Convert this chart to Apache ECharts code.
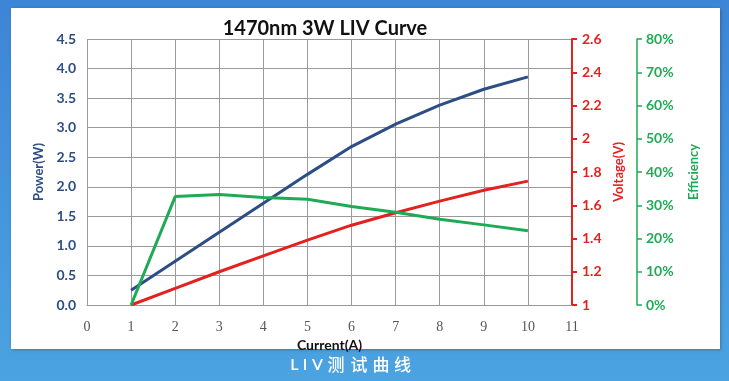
<!DOCTYPE html>
<html><head><meta charset="utf-8">
<script src="https://cdn.jsdelivr.net/npm/echarts@6/dist/echarts.min.js"></script>
<style>html,body{margin:0;padding:0;}#c{width:729px;height:381px;}</style>
</head><body><div id="c"></div>
<script>
const current = [1, 2, 3, 4, 5, 6, 7, 8, 9, 10];
const power = [0.25, 0.74, 1.23, 1.72, 2.21, 2.68, 3.06, 3.38, 3.65, 3.86];
const voltage = [1.0, 1.1, 1.2, 1.295, 1.39, 1.48, 1.555, 1.625, 1.69, 1.745];
const efficiency = [0, 0.326, 0.332, 0.323, 0.318, 0.296, 0.279, 0.258, 0.241, 0.223];
const caption = ['L', 'I', 'V', '测', '试', '曲', '线'];

const BLUE = '#2d4e85', RED = '#e3211f', GREEN = '#1fab55';
const chart = echarts.init(document.getElementById('c'));
const font = 'Lato, "Open Sans", sans-serif';

const capX = [294.5, 305, 317.5, 336, 359, 381, 402.5];
const capGraphics = caption.map((ch, i) => ({
  type: 'text', x: capX[i], y: 365, z: -5,
  style: { text: ch, fill: '#ffffff',
    font: (i < 3 ? '600 16px Lato, sans-serif' : '500 17px "Noto Sans CJK SC", sans-serif'),
    textAlign: 'center', textVerticalAlign: 'middle' }
}));

chart.setOption({
  animation: false,
  backgroundColor: 'transparent',
  title: {
    text: '1470nm 3W LIV Curve', left: 320, top: 14, textAlign: 'center',
    textStyle: { fontFamily: font, fontWeight: 'bold', fontSize: 20, color: '#111' }
  },
  graphic: [
    { type: 'rect', left: 0, top: 0, z: -20, shape: { width: 729, height: 381 },
      style: { fill: new echarts.graphic.LinearGradient(0, 0, 0, 1, [
        { offset: 0, color: '#3d85d6' }, { offset: 1, color: '#4ba3e1' }]) } },
    { type: 'rect', left: 11, top: 8, z: -10, shape: { width: 709, height: 341 },
      style: { fill: '#ffffff', shadowBlur: 3, shadowColor: 'rgba(0,0,0,0.25)', shadowOffsetX: 1, shadowOffsetY: 1 } },
    ...capGraphics
  ],
  grid: { left: 87, right: 157, top: 39, bottom: 76 },
  xAxis: {
    type: 'value', min: 0, max: 11, interval: 1,
    name: 'Current(A)', nameLocation: 'middle', nameGap: 23,
    nameTextStyle: { fontFamily: font, fontWeight: 'bold', fontSize: 14, color: '#111' },
    axisLine: { show: true, lineStyle: { color: '#999', width: 1 } },
    axisTick: { show: false },
    axisLabel: { margin: 15, fontFamily: '"Liberation Serif", serif', fontSize: 14, color: '#555' },
    splitLine: { show: true, lineStyle: { color: '#9a9a9a', width: 1 } }
  },
  yAxis: [
    {
      type: 'value', min: 0, max: 4.5, interval: 0.5, position: 'left',
      name: 'Power(W)', nameLocation: 'middle', nameGap: 40, nameRotate: 90,
      nameTextStyle: { fontFamily: font, fontWeight: 'bold', fontSize: 13, color: BLUE },
      axisLine: { show: false }, axisTick: { show: false },
      axisLabel: { margin: 11, fontFamily: font, fontWeight: 'bold', fontSize: 14, color: BLUE,
        formatter: v => v.toFixed(1) },
      splitLine: { show: true, lineStyle: { color: '#9a9a9a', width: 1 } }
    },
    {
      type: 'value', min: 1, max: 2.6, interval: 0.2, position: 'right',
      name: 'Voltage(V)', nameLocation: 'middle', nameGap: 40, nameRotate: 90,
      nameTextStyle: { fontFamily: font, fontWeight: 'bold', fontSize: 13, color: RED },
      axisLine: { show: true, lineStyle: { color: RED, width: 2 } },
      axisTick: { show: true, inside: false, length: 5, lineStyle: { color: RED, width: 2 } },
      axisLabel: { margin: 10, fontFamily: font, fontWeight: 'bold', fontSize: 14, color: RED,
        formatter: v => String(Math.round(v * 10) / 10) },
      splitLine: { show: false }
    },
    {
      type: 'value', min: 0, max: 0.8, interval: 0.1, position: 'right', offset: 65,
      name: 'Efficiency', nameLocation: 'middle', nameGap: 50, nameRotate: 90,
      nameTextStyle: { fontFamily: font, fontWeight: 'bold', fontSize: 13, color: GREEN },
      axisLine: { show: true, lineStyle: { color: GREEN, width: 1.5 } },
      axisTick: { show: true, inside: false, length: 5, lineStyle: { color: GREEN, width: 1.5 } },
      axisLabel: { margin: 9, fontFamily: font, fontWeight: 'bold', fontSize: 14, color: GREEN,
        formatter: v => Math.round(v * 100) + '%' },
      splitLine: { show: false }
    }
  ],
  series: [
    { type: 'line', name: 'Power', yAxisIndex: 0, showSymbol: false,
      data: current.map((c, i) => [c, power[i]]), lineStyle: { color: BLUE, width: 3 }, itemStyle: { color: BLUE } },
    { type: 'line', name: 'Voltage', yAxisIndex: 1, showSymbol: false,
      data: current.map((c, i) => [c, voltage[i]]), lineStyle: { color: RED, width: 3 }, itemStyle: { color: RED } },
    { type: 'line', name: 'Efficiency', yAxisIndex: 2, showSymbol: false,
      data: current.map((c, i) => [c, efficiency[i]]), lineStyle: { color: GREEN, width: 3 }, itemStyle: { color: GREEN } }
  ]
});
</script></body></html>
